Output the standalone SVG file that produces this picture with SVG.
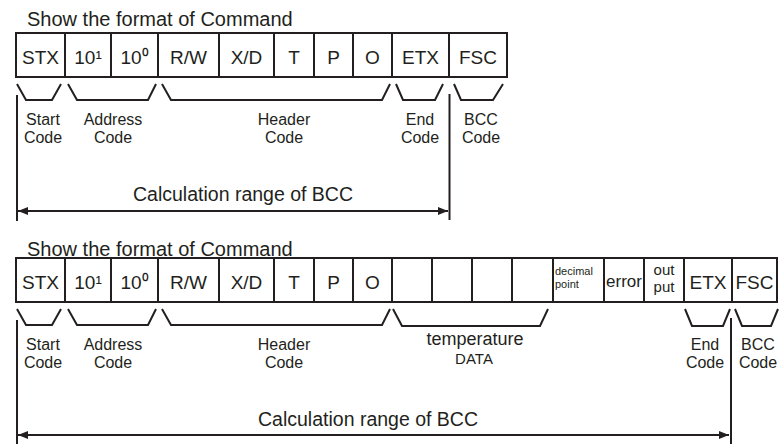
<svg xmlns="http://www.w3.org/2000/svg" width="779" height="444" viewBox="0 0 779 444">
<style>
.cell{fill:#fff;stroke:#231f20;stroke-width:2}
text{font-family:"Liberation Sans",Arial,sans-serif;fill:#231f20}
.ttl{font-size:20px}
.ct{font-size:19px;text-anchor:middle}
.lb{font-size:16px;text-anchor:middle}
.ln{fill:none;stroke:#231f20;stroke-width:2}
.arr{fill:none;stroke:#231f20;stroke-width:2;marker-start:url(#ah);marker-end:url(#ah)}
</style>
<defs>
<marker id="ah" markerUnits="userSpaceOnUse" markerWidth="10" markerHeight="8" refX="10" refY="4" orient="auto-start-reverse">
<path d="M0,0 L10,4 L0,8 z" fill="#231f20"/>
</marker>
</defs>
<rect width="779" height="444" fill="#fff"/>

<!-- Top frame -->
<text class="ttl" x="27" y="26">Show the format of Command</text>
<g id="top-frame">
<g id="t-stx"><rect class="cell" x="16" y="33" width="49" height="44"/><text class="ct" x="40.5" y="64">STX</text></g>
<g id="t-a1"><rect class="cell" x="65" y="33" width="46" height="44"/><text class="ct" x="88" y="64">10¹</text></g>
<g id="t-a0"><rect class="cell" x="111" y="33" width="47" height="44"/><text class="ct" x="134.5" y="64">10⁰</text></g>
<g id="t-rw"><rect class="cell" x="158" y="33" width="61" height="44"/><text class="ct" x="188.5" y="64">R/W</text></g>
<g id="t-xd"><rect class="cell" x="219" y="33" width="55" height="44"/><text class="ct" x="246.5" y="64">X/D</text></g>
<g id="t-t"><rect class="cell" x="274" y="33" width="40" height="44"/><text class="ct" x="294" y="64">T</text></g>
<g id="t-p"><rect class="cell" x="314" y="33" width="39" height="44"/><text class="ct" x="333.5" y="64">P</text></g>
<g id="t-o"><rect class="cell" x="353" y="33" width="39" height="44"/><text class="ct" x="372.5" y="64">O</text></g>
<g id="t-etx"><rect class="cell" x="392" y="33" width="57" height="44"/><text class="ct" x="420.5" y="64">ETX</text></g>
<g id="t-fsc"><rect class="cell" x="449" y="33" width="58" height="44"/><text class="ct" x="478" y="64">FSC</text></g>
</g>
<g id="top-labels">
<g id="t-start"><text class="lb" x="43" y="125">Start</text><text class="lb" x="43" y="143">Code</text></g>
<g id="t-address"><text class="lb" x="113" y="125">Address</text><text class="lb" x="113" y="143">Code</text></g>
<g id="t-header"><text class="lb" x="284" y="125">Header</text><text class="lb" x="284" y="143">Code</text></g>
<g id="t-end"><text class="lb" x="420" y="125">End</text><text class="lb" x="420" y="143">Code</text></g>
<g id="t-bcc"><text class="lb" x="481" y="125">BCC</text><text class="lb" x="481" y="143">Code</text></g>
<text id="t-range" x="133" y="201" style="font-size:19.5px">Calculation range of BCC</text>
</g>
<g id="top-connectors">
<path class="ln" d="M17,84 L26,100 L52,100 L61,84"/>
<path class="ln" d="M68,84 L77,100 L148,100 L156,84"/>
<path class="ln" d="M162,84 L171,100 L382,100 L390,84"/>
<path class="ln" d="M396,84 L403,100 L435,100 L443,84"/>
<path class="ln" d="M454,84 L461,100 L493,100 L503,84"/>
<path class="ln" d="M17,95 L17,221"/>
<path class="ln" d="M449.5,94 L449.5,220"/>
<path class="arr" d="M18,211 L448,211"/>
</g>

<!-- Bottom frame -->
<text class="ttl" x="27" y="256">Show the format of Command</text>
<g id="bottom-frame">
<g id="b-stx"><rect class="cell" x="16" y="258" width="49" height="44"/><text class="ct" x="40.5" y="289">STX</text></g>
<g id="b-a1"><rect class="cell" x="65" y="258" width="46" height="44"/><text class="ct" x="88" y="289">10¹</text></g>
<g id="b-a0"><rect class="cell" x="111" y="258" width="47" height="44"/><text class="ct" x="134.5" y="289">10⁰</text></g>
<g id="b-rw"><rect class="cell" x="158" y="258" width="61" height="44"/><text class="ct" x="188.5" y="289">R/W</text></g>
<g id="b-xd"><rect class="cell" x="219" y="258" width="55" height="44"/><text class="ct" x="246.5" y="289">X/D</text></g>
<g id="b-t"><rect class="cell" x="274" y="258" width="40" height="44"/><text class="ct" x="294" y="289">T</text></g>
<g id="b-p"><rect class="cell" x="314" y="258" width="39" height="44"/><text class="ct" x="333.5" y="289">P</text></g>
<g id="b-o"><rect class="cell" x="353" y="258" width="39" height="44"/><text class="ct" x="372.5" y="289">O</text></g>
<g id="b-d1"><rect class="cell" x="392" y="258" width="40" height="44"/></g>
<g id="b-d2"><rect class="cell" x="432" y="258" width="40" height="44"/></g>
<g id="b-d3"><rect class="cell" x="472" y="258" width="40" height="44"/></g>
<g id="b-d4"><rect class="cell" x="512" y="258" width="41" height="44"/></g>
<g id="b-dp"><rect class="cell" x="553" y="258" width="51" height="44"/><text x="555" y="275" style="font-size:11px">decimal</text><text x="555" y="288" style="font-size:11px">point</text></g>
<g id="b-err"><rect class="cell" x="604" y="258" width="40" height="44"/><text x="624" y="287" style="font-size:17px;text-anchor:middle">error</text></g>
<g id="b-out"><rect class="cell" x="644" y="258" width="40" height="44"/><text x="664" y="275" style="font-size:15px;text-anchor:middle">out</text><text x="664" y="292" style="font-size:15px;text-anchor:middle">put</text></g>
<g id="b-etx"><rect class="cell" x="684" y="258" width="48" height="44"/><text class="ct" x="708" y="289">ETX</text></g>
<g id="b-fsc"><rect class="cell" x="732" y="258" width="45" height="44"/><text class="ct" x="754.5" y="289">FSC</text></g>
</g>
<g id="bottom-labels">
<g id="b-start"><text class="lb" x="43" y="350">Start</text><text class="lb" x="43" y="368">Code</text></g>
<g id="b-address"><text class="lb" x="113" y="350">Address</text><text class="lb" x="113" y="368">Code</text></g>
<g id="b-header"><text class="lb" x="284" y="350">Header</text><text class="lb" x="284" y="368">Code</text></g>
<g id="b-temp"><text x="475" y="345" style="font-size:18px;text-anchor:middle">temperature</text><text x="474" y="364" style="font-size:15px;text-anchor:middle">DATA</text></g>
<g id="b-end"><text class="lb" x="705" y="350">End</text><text class="lb" x="705" y="368">Code</text></g>
<g id="b-bcc"><text class="lb" x="758" y="350">BCC</text><text class="lb" x="758" y="368">Code</text></g>
<text id="b-range" x="258" y="426" style="font-size:19.5px">Calculation range of BCC</text>
</g>
<g id="bottom-connectors">
<path class="ln" d="M17,309 L26,325 L52,325 L61,309"/>
<path class="ln" d="M68,309 L77,325 L148,325 L156,309"/>
<path class="ln" d="M162,309 L171,325 L382,325 L390,309"/>
<path class="ln" d="M393,309 L402,326 L540,326 L548,309"/>
<path class="ln" d="M685,309 L692,326 L723,326 L730,309"/>
<path class="ln" d="M735,309 L742,326 L771,326 L778,309"/>
<path class="ln" d="M17,320 L17,444"/>
<path class="ln" d="M731,318 L731,444"/>
<path class="arr" d="M18,435 L729,435"/>
</g>
</svg>
